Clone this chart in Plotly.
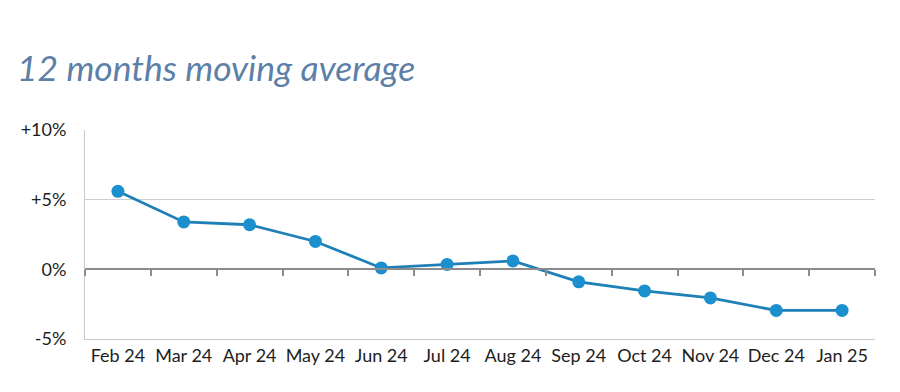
import plotly.graph_objects as go

months = ["Feb 24", "Mar 24", "Apr 24", "May 24", "Jun 24", "Jul 24",
          "Aug 24", "Sep 24", "Oct 24", "Nov 24", "Dec 24", "Jan 25"]
values = [5.6, 3.4, 3.2, 2.0, 0.1, 0.35, 0.6, -0.9, -1.55, -2.05, -2.95, -2.95]
y_ticks = [-5, 0, 5, 10]
y_tick_labels = ["-5%", "0%", "+5%", "+10%"]

idx = list(range(len(months)))
y_range = [-5, 10]

fig = go.Figure()
fig.add_trace(go.Scatter(
    x=idx, y=values, mode="lines+markers",
    line=dict(color="#1e80b6", width=2.8),
    marker=dict(color="#1c8fcf", size=13),
    hoverinfo="skip", showlegend=False,
))

# page has an 8px body margin; size the figure to fit the 900x392 window
W, H = 892, 384
L, R, T, B = 77, 25, 122, 53
zero_pos = (0 - y_range[0]) / (y_range[1] - y_range[0])

fig.update_layout(
    width=W, height=H,
    margin=dict(l=L, r=R, t=T, b=B, autoexpand=False),
    paper_bgcolor="white", plot_bgcolor="white",
    font=dict(family="Lato, Liberation Sans, sans-serif", size=18, color="#1e1e1e"),
    title=dict(text="<i>12 months moving average</i>",
               font=dict(family="Lato, Liberation Sans, sans-serif", size=35.5, color="#5d80a8"),
               x=0.01, xanchor="left", y=0.841, yanchor="middle"),
    xaxis=dict(
        range=[-0.5, len(months) - 0.5],
        tickvals=idx, ticktext=months,
        showgrid=False, zeroline=False, automargin=False,
        showline=True, linecolor="#c8c8c8", linewidth=1,
        ticks="", ticklabelstandoff=0,
    ),
    xaxis2=dict(
        overlaying="x", anchor="free", position=zero_pos,
        range=[-0.5, len(months) - 0.5],
        tickvals=[i - 0.5 for i in range(len(months) + 1)],
        showticklabels=False, showgrid=False, zeroline=False, automargin=False,
        showline=True, linecolor="#8c8c8c", linewidth=1.5,
        ticks="outside", ticklen=6, tickcolor="#8c8c8c", tickwidth=1.5,
    ),
    yaxis=dict(
        range=y_range, tickvals=y_ticks, ticktext=y_tick_labels,
        showgrid=True, gridcolor="#cfcfcf", gridwidth=1,
        zeroline=False, automargin=False,
        showline=True, linecolor="#c8c8c8", linewidth=1,
        ticks="", ticklabelstandoff=14,
    ),
)
fig.add_trace(go.Scatter(x=[], y=[], xaxis="x2", yaxis="y", showlegend=False, hoverinfo="skip"))

fig.write_html("out.html")
